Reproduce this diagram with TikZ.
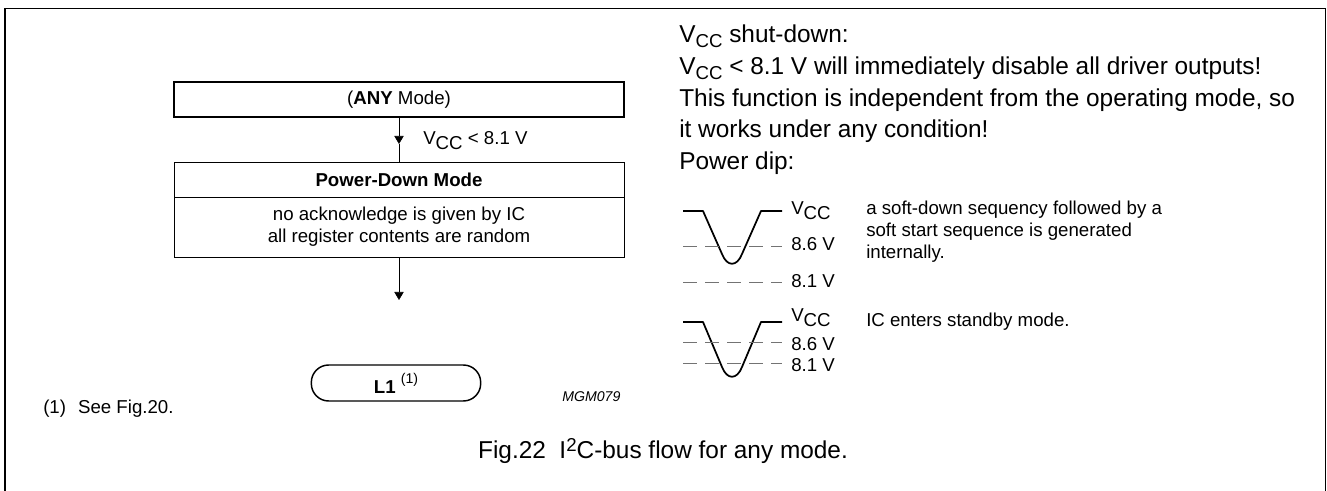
\documentclass[tikz,border=0pt]{standalone}
\usepackage{fontspec}
\setmainfont{Liberation Sans}
\usetikzlibrary{arrows.meta}
\newcommand{\bigtext}{\fontsize{18.3pt}{24pt}\selectfont}
\newcommand{\smalltext}{\fontsize{14pt}{16.5pt}\selectfont}
\newcommand{\tinytext}{\fontsize{10.6pt}{12pt}\selectfont}
\newcommand{\Vcc}{V\raisebox{-3.5pt}{\smalltext CC}}
\tikzset{
    modebox/.style={draw,minimum width=337.5pt,inner sep=0pt,align=center,font=\smalltext},
    flow/.style={-{Triangle[length=6pt,width=7pt]}},
    wave/.style={line width=1.3pt,line join=round},
    level/.style={gray!90!black,line width=0.6pt,dash pattern=on 10.5pt off 6pt},
    biglabel/.style={anchor=base west,inner sep=0pt,font=\bigtext},
    smalllabel/.style={anchor=base west,inner sep=0pt,font=\smalltext},
}
\begin{document}
\begin{tikzpicture}[x=0.75pt,y=-0.75pt]
    \useasboundingbox (0,0) rectangle (1327,491);
    \draw[line width=1.1pt] (5,491) -- (5,8.5) -- (1325.5,8.5) -- (1325.5,491);

    % flow on the left
    \node[modebox,line width=1.5pt,minimum height=26pt] (any) at (399,99.5) {(\textbf{ANY} Mode)};
    \node[modebox,minimum height=26.25pt] (down) at (399,179.5) {\textbf{Power-Down Mode}};
    \node[modebox,minimum height=45pt] (info) at (399,227) {no acknowledge is given by IC\\all register contents are random};
    \node[draw,rounded corners=13pt,line width=1.1pt,minimum width=127pt,minimum height=27pt,inner sep=0pt,font=\smalltext] (lone) at (396,383) {\textbf{L1}\ \raisebox{1ex}{\tinytext (1)}};
    \coordinate (flowend) at (399,300);
    \coordinate (midtip) at (399,144);
    \draw[flow] (any) -- (midtip);
    \draw (midtip) -- (down);
    \draw[flow] (info) -- (flowend);
    \node[smalllabel] (cond) at (423,145) {\Vcc\ < 8.1 V};
    \node[smalllabel] (note) at (43,413) {(1)\hspace{9pt}See Fig.20.};
    \node[anchor=base west,inner sep=0pt,font=\tinytext\itshape] (code) at (562,402) {MGM079};

    % text on the right
    \node[biglabel] (t1) at (679,43) {\Vcc\ shut-down:};
    \node[biglabel] (t2) at (679,75) {\Vcc\ < 8.1 V will immediately disable all driver outputs!};
    \node[biglabel] (t3) at (679,107) {This function is independent from the operating mode, so};
    \node[biglabel] (t4) at (679,138) {it works under any condition!};
    \node[biglabel] (t5) at (679,170) {Power dip:};

    % first dip
    \draw[wave] (683,211) -- (703,211) -- (722,254) .. controls (727,267) and (737,267) .. (742,254) -- (761,211) -- (782,211);
    \draw[level] (683,246) -- (782,246);
    \draw[level] (683,282) -- (782,282);
    \node[smalllabel] (vone) at (791,215) {\Vcc};
    \node[smalllabel] (vtwo) at (791,251) {8.6 V};
    \node[smalllabel] (vthree) at (791,288) {8.1 V};
    \node[smalllabel,align=left,anchor=north west] (dipa) at (866,201) {a soft-down sequency followed by a\\soft start sequence is generated\\internally.};

    % second dip
    \draw[wave] (683,322) -- (703,322) -- (722,367) .. controls (727,380) and (737,380) .. (742,367) -- (761,322) -- (782,322);
    \draw[level] (683,342) -- (782,342);
    \draw[level] (683,363) -- (782,363);
    \node[smalllabel] (vfour) at (791,322) {\Vcc};
    \node[smalllabel] (vfive) at (791,350) {8.6 V};
    \node[smalllabel] (vsix) at (791,371) {8.1 V};
    \node[smalllabel] (dipb) at (866,327) {IC enters standby mode.};

    \node[anchor=base,inner sep=0pt,font=\bigtext] (caption) at (663,458) {Fig.22\ \ I\raisebox{0.5ex}{\smalltext 2}C-bus flow for any mode.};
\end{tikzpicture}
\end{document}
